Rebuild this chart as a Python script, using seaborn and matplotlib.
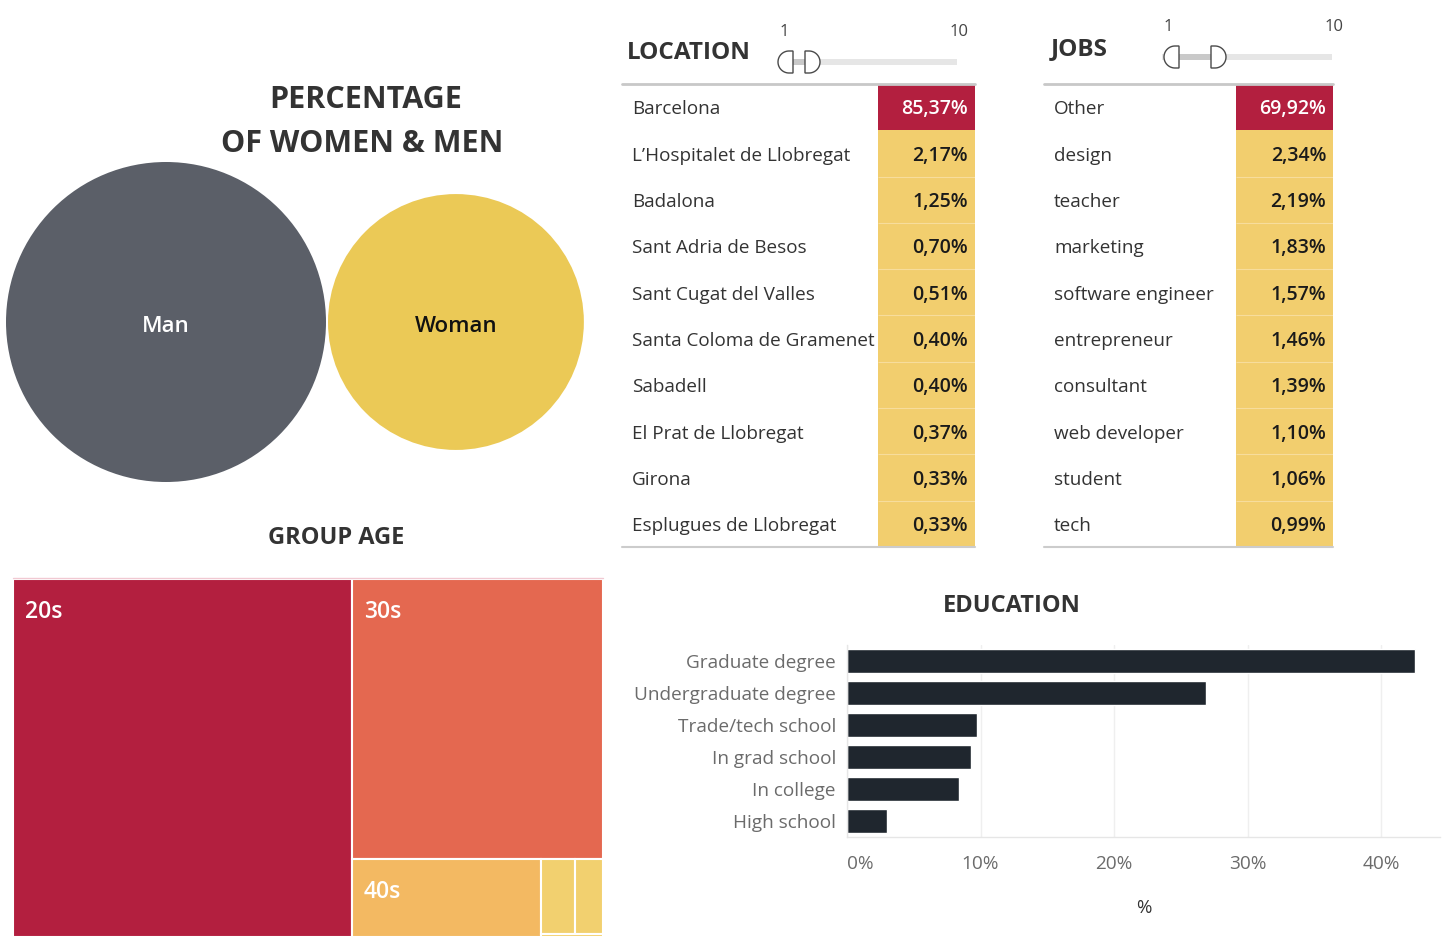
"""
Dashboard recreation - gender, age groups, location, jobs and education
"""
import numpy as np
import pandas as pd
import matplotlib
matplotlib.use('Agg')
import matplotlib.pyplot as plt
import seaborn as sns
from matplotlib.patches import Circle, Rectangle, Polygon
from matplotlib.colors import ListedColormap
from matplotlib.transforms import blended_transform_factory

# Data
GENDER = ['Man', 'Woman']
GENDER_PCT = [61.0, 39.0]

AGE_GROUPS = ['20s', '30s', '40s', '50s', '60s', '70s']
AGE_PCT = [57.5, 33.3, 7.0, 1.2, 1.0, 0.1]

LOCATIONS = ['Barcelona', 'L\u2019Hospitalet de Llobregat', 'Badalona', 'Sant Adria de Besos',
             'Sant Cugat del Valles', 'Santa Coloma de Gramenet', 'Sabadell',
             'El Prat de Llobregat', 'Girona', 'Esplugues de Llobregat']
LOCATION_PCT = [85.37, 2.17, 1.25, 0.70, 0.51, 0.40, 0.40, 0.37, 0.33, 0.33]

JOBS = ['Other', 'design', 'teacher', 'marketing', 'software engineer', 'entrepreneur',
        'consultant', 'web developer', 'student', 'tech']
JOB_PCT = [69.92, 2.34, 2.19, 1.83, 1.57, 1.46, 1.39, 1.10, 1.06, 0.99]

EDUCATION = ['Graduate degree', 'Undergraduate degree', 'Trade/tech school',
             'In grad school', 'In college', 'High school']
EDU_PCT = [42.5, 26.9, 9.7, 9.3, 8.4, 3.0]
EDU_TICKS = [0, 10, 20, 30, 40]

# Colours
CRIMSON = '#B31F3F'
YELLOW = '#F2CE6E'
GREY_BUBBLE = '#5B5F68'
YELLOW_BUBBLE = '#EBC956'
AGE_COLORS = ['#B31F3F', '#E46850', '#F3B962', '#F2D06F', '#F2D06F', '#F2D06F']
DARK = '#333333'

W, H = 1442, 946

sns.set_theme(style='white')
plt.rcParams['font.family'] = ['Open Sans', 'DejaVu Sans']

fig = plt.figure(figsize=(W / 100, H / 100), dpi=100)
fig.patch.set_facecolor('white')


def px_axes(x0, y0, x1, y1):
    """axes from a pixel box (top-left origin)"""
    return fig.add_axes([x0 / W, 1 - y1 / H, (x1 - x0) / W, (y1 - y0) / H])


def treemap_rects(values, groups, x, y, w, h):
    """simple strip treemap: each group takes a strip along the shorter side"""
    rects = {}
    remaining = float(sum(values))
    for grp in groups:
        gsum = sum(values[i] for i in grp)
        frac = gsum / remaining
        if w >= h:
            sw = w * frac
            yy = y
            for i in grp:
                hh = h * values[i] / gsum
                rects[i] = (x, yy, sw, hh)
                yy += hh
            x += sw
            w -= sw
        else:
            sh = h * frac
            xx = x
            for i in grp:
                ww = w * values[i] / gsum
                rects[i] = (xx, y, ww, sh)
                xx += ww
            y += sh
            h -= sh
        remaining -= gsum
    return [rects[i] for i in range(len(values))]


def draw_slider(ax, x0, x1, yc, flat_lo, flat_hi, lab_y):
    ax.add_patch(Rectangle((x0, yc - 3), x1 - x0, 6, color='#E6E6E6', lw=0, zorder=2))
    ax.add_patch(Rectangle((flat_lo, yc - 3), flat_hi - flat_lo, 6, color='#C9C9C9', lw=0, zorder=3))
    r = 11
    t = np.linspace(np.pi / 2, 3 * np.pi / 2, 40)
    for xf, side in [(flat_lo, -1), (flat_hi, 1)]:
        cx = xf + side * 4
        arc = [(cx - side * r * np.cos(a), yc - r * np.sin(a)) for a in t]
        pts = [(xf, yc - r)] + arc + [(xf, yc + r)]
        ax.add_patch(Polygon(pts, closed=True, facecolor='white', edgecolor='#4A4A4A', lw=1, zorder=4))
    ax.text(x0 + 6, lab_y, '1', ha='center', va='center', fontsize=12, color='#444444')
    ax.text(x1 + 2, lab_y, '10', ha='center', va='center', fontsize=12, color='#444444')


def draw_table(names, values, x_line0, x_name, x_cell0, x_cell1, x_value, y_top, y_bot):
    ax = px_axes(x_cell0, y_top, x_cell1, y_bot)
    df = pd.DataFrame({'pct': values}, index=names)
    sns.heatmap(df, cmap=ListedColormap([YELLOW, CRIMSON]), vmin=0, vmax=100,
                cbar=False, xticklabels=False, yticklabels=False, ax=ax)
    ax.hlines(np.arange(2, len(values)), 0, 1, color='#F7DD9C', lw=0.8)
    trans = blended_transform_factory(fig.transFigure, ax.transData)
    for i, (name, v) in enumerate(zip(names, values)):
        ax.text(x_name / W, i + 0.55, name, transform=trans, ha='left', va='center',
                fontsize=13.6, color=DARK)
        txt = f'{v:.2f}'.replace('.', ',') + '%'
        ax.text(x_value / W, i + 0.55, txt, transform=trans, ha='right', va='center',
                fontsize=14, fontweight='semibold',
                color='white' if v >= 50 else '#1A1A1A')
    ov.plot([x_line0, x_cell1], [y_top, y_top], color='#C8C8C8', lw=2)
    ov.plot([x_line0, x_cell1], [y_bot, y_bot], color='#CCCCCC', lw=1.5)


# overlay in pixel coordinates for shapes and titles
ov = fig.add_axes([0, 0, 1, 1])
ov.set_xlim(0, W)
ov.set_ylim(H, 0)
ov.axis('off')
ov.set_zorder(5)

# --- Percentage of women & men (packed bubbles)
ov.text(366, 100, 'PERCENTAGE', ha='center', va='center', fontsize=22, fontweight='bold', color=DARK)
ov.text(362, 144, 'OF WOMEN & MEN', ha='center', va='center', fontsize=22, fontweight='bold', color=DARK)
r_scale = 160 / np.sqrt(max(GENDER_PCT))
radii = [r_scale * np.sqrt(v) for v in GENDER_PCT]
cy = 322
cx = 6 + radii[0]
for name, r, col, tcol in zip(GENDER, radii, [GREY_BUBBLE, YELLOW_BUBBLE], ['white', '#111111']):
    ov.add_patch(Circle((cx, cy), r, color=col, lw=0))
    ov.text(cx, cy + 4, name, ha='center', va='center', fontsize=16, fontweight='semibold', color=tcol)
    cx += r + 2
    if name == GENDER[0]:
        cx += radii[1]

# --- Group age treemap
ov.text(336, 538, 'GROUP AGE', ha='center', va='center', fontsize=17, fontweight='bold', color=DARK)
rects = treemap_rects(AGE_PCT, [[0], [1], [2], [3, 4], [5]], 13, 579, 590, 358)
for label, (x, y, w, h), col in zip(AGE_GROUPS, rects, AGE_COLORS):
    ov.add_patch(Rectangle((x, y), w, h, facecolor=col, edgecolor='white', lw=1.5))
    if w > 60 and h > 40:
        ov.text(x + 12, y + 33, label, ha='left', va='center', fontsize=16.5,
                fontweight='semibold', color='white')
ov.plot([13, 603], [578, 578], color='#F1C9D2', lw=1)

# --- Location table
ov.text(627, 53, 'LOCATION', ha='left', va='center', fontsize=17.5, fontweight='bold', color=DARK)
draw_slider(ov, 778, 957, 62, 793, 805, 32)
draw_table(LOCATIONS, LOCATION_PCT, 622, 632, 878, 975, 968, 84, 547)

# --- Jobs table
ov.text(1051, 49, 'JOBS', ha='left', va='center', fontsize=17.5, fontweight='bold', color=DARK)
draw_slider(ov, 1162, 1332, 57, 1179, 1211, 27)
draw_table(JOBS, JOB_PCT, 1044, 1054, 1236, 1333, 1326, 84, 547)

# --- Education bar chart
ov.text(1012, 606, 'EDUCATION', ha='center', va='center', fontsize=17, fontweight='bold', color=DARK)
axb = px_axes(847, 645, 1440, 837)
sns.barplot(x=EDU_PCT, y=EDUCATION, orient='h', color='#1F262E', saturation=1,
            width=0.72, ax=axb)
axb.set_xlim(0, 44.4)
axb.set_xticks(EDU_TICKS)
axb.set_xticklabels([f'{t}%' for t in EDU_TICKS])
axb.get_xticklabels()[0].set_ha('left')
axb.tick_params(axis='both', length=0, labelsize=13.7, labelcolor='#6B6B6B')
axb.tick_params(axis='y', pad=8)
axb.tick_params(axis='x', pad=13)
axb.xaxis.grid(True, color='#EFEFEF', lw=1)
axb.set_axisbelow(True)
for s in ['top', 'right']:
    axb.spines[s].set_visible(False)
for s in ['left', 'bottom']:
    axb.spines[s].set_color('#E6E6E6')
    axb.spines[s].set_linewidth(1)
axb.set_xlabel('%', fontsize=13.5, color=DARK, labelpad=19)
axb.set_ylabel('')

fig.savefig('out.png', dpi=100, facecolor='white')
